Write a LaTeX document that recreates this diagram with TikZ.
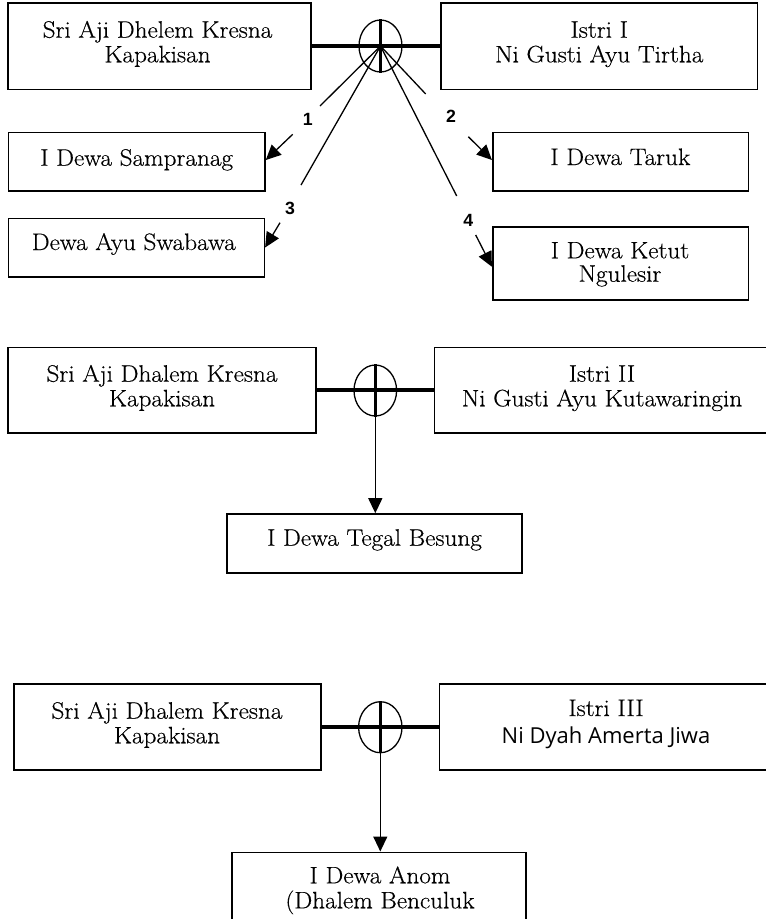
\documentclass[tikz,border=0pt]{standalone}
\usepackage{fontspec}
\setmainfont{Latin Modern Roman}[FakeStretch=1.06,FakeBold=0.4]
\newfontfamily\comicfont{Open Sans}
\newfontfamily\numfont{Liberation Sans}
\usetikzlibrary{arrows.meta,shapes.geometric}
\tikzset{
  box/.style={draw, rectangle, line width=1.6pt, inner sep=0pt},
  txt/.style={anchor=base, inner sep=0pt, font=\fontsize{23.8}{24.6}\selectfont},
  ctxt/.style={anchor=base, inner sep=0pt, font=\comicfont\fontsize{22}{24}\selectfont},
  num/.style={inner sep=0pt, font=\numfont\bfseries\fontsize{17.7}{18}\selectfont},
  hub/.style={draw, ellipse, line width=1.3pt, inner sep=0pt},
  marriage/.style={line width=4pt},
  thickv/.style={line width=2.8pt},
  conn/.style={line width=1.3pt},
  arr/.style={line width=1.3pt, -{Triangle[length=15pt,width=14pt]}}
}
\begin{document}
\begin{tikzpicture}[x=1pt,y=-1pt]
\useasboundingbox (0,0) rectangle (766,919);
% ---------- Section 1 ----------
\node[box, minimum width=303pt, minimum height=86.3pt] (a1) at (159.5,46.15) {};
\node[box, minimum width=316.5pt, minimum height=86.3pt] (b1) at (599.25,46.15) {};
\node[txt] (a1t1) at (157.5,37.7) {Sri Aji Dhelem Kresna};
\node[txt] (a1t2) at (157.5,62.3) {Kapakisan};
\node[txt] (b1t1) at (599.25,37.7) {Istri I};
\node[txt] (b1t2) at (599.25,62.3) {Ni Gusti Ayu Tirtha};
\node[hub, minimum width=43pt, minimum height=52pt] (h1) at (380.5,46) {};
\draw[marriage] (a1.east) -- (b1.west);
\draw[thickv] (h1.north) -- (h1.south);

\node[box, minimum width=256.7pt, minimum height=58.4pt] (c1) at (136.65,161.5) {};
\node[txt] (c1t) at (136.7,165.7) {I Dewa Sampranag};
\node[box, minimum width=256pt, minimum height=58.4pt] (c3) at (136.3,247.5) {};
\node[txt] (c3t) at (133.8,250) {Dewa Ayu Swabawa};
\node[box, minimum width=255.6pt, minimum height=58.4pt] (c2) at (620.5,161.5) {};
\node[txt] (c2t) at (620.3,165) {I Dewa Taruk};
\node[box, minimum width=255.6pt, minimum height=73.3pt] (c4) at (620.5,263.35) {};
\node[txt] (c4t1) at (620,258.3) {I Dewa Ketut};
\node[txt] (c4t2) at (620,281.7) {Ngulesir};

\coordinate (e1) at (320,106);
\coordinate (e2) at (425.7,94);
\coordinate (e3) at (301,185);
\coordinate (e4) at (456.7,196);
\coordinate (s1) at (292.7,134.3);
\coordinate (s2) at (468.3,136.7);
\coordinate (s3) at (280,222.7);
\coordinate (s4) at (475.7,235);
\draw[conn] (h1.center) -- (e1);
\draw[conn] (h1.center) -- (e2);
\draw[conn] (h1.center) -- (e3);
\draw[conn] (h1.center) -- (e4);
\node[num] (n1) at (307.7,119) {1};
\node[num] (n2) at (451,116.7) {2};
\node[num] (n3) at (290,208) {3};
\node[num] (n4) at (468.3,220) {4};
\draw[arr] (s1) -- ([yshift=1.5pt]c1.east);
\draw[arr] (s2) -- ([yshift=1.5pt]c2.west);
\draw[arr] (s3) -- (c3.east);
\draw[arr] (s4) -- ([yshift=-3.4pt]c4.west);

% ---------- Section 2 ----------
\node[box, minimum width=307.7pt, minimum height=85.4pt] (a2) at (161.85,390) {};
\node[box, minimum width=335.7pt, minimum height=85.4pt] (b2) at (602.15,390) {};
\node[txt] (a2t1) at (162,381.7) {Sri Aji Dhalem Kresna};
\node[txt] (a2t2) at (162,406.3) {Kapakisan};
\node[txt] (b2t1) at (602,381.7) {Istri II};
\node[txt] (b2t2) at (602,406.3) {Ni Gusti Ayu Kutawaringin};
\node[hub, minimum width=42.6pt, minimum height=51pt] (h2) at (375.3,390.5) {};
\draw[marriage] (a2.east) -- (b2.west);
\draw[thickv] (h2.north) -- (h2.south);
\node[box, minimum width=295pt, minimum height=58.7pt] (d2) at (374.2,543.35) {};
\node[txt] (d2t) at (374.5,545.7) {I Dewa Tegal Besung};
\draw[arr] (h2.center) -- (d2.north -| h2.center);

% ---------- Section 3 ----------
\node[box, minimum width=306.7pt, minimum height=86pt] (a3) at (167.35,727) {};
\node[box, minimum width=333.7pt, minimum height=86pt] (b3) at (606.15,727) {};
\node[txt] (a3t1) at (167,718.7) {Sri Aji Dhalem Kresna};
\node[txt] (a3t2) at (167,743.3) {Kapakisan};
\node[txt] (b3t1) at (606,716) {Istri III};
\node[ctxt] (b3t2) at (606,743.3) {Ni Dyah Amerta Jiwa};
\node[hub, minimum width=43.4pt, minimum height=51pt] (h3) at (380.3,727.2) {};
\draw[marriage] (a3.east) -- (b3.west);
\draw[thickv] (h3.north) -- (h3.south);
\node[box, minimum width=294.3pt, minimum height=97.7pt] (d3) at (378.85,901.15) {};
\node[txt] (d3t1) at (380,883.3) {I Dewa Anom};
\node[txt] (d3t2) at (380,908.3) {(Dhalem Benculuk};
\draw[arr] (h3.center) -- (d3.north -| h3.center);
\end{tikzpicture}
\end{document}
